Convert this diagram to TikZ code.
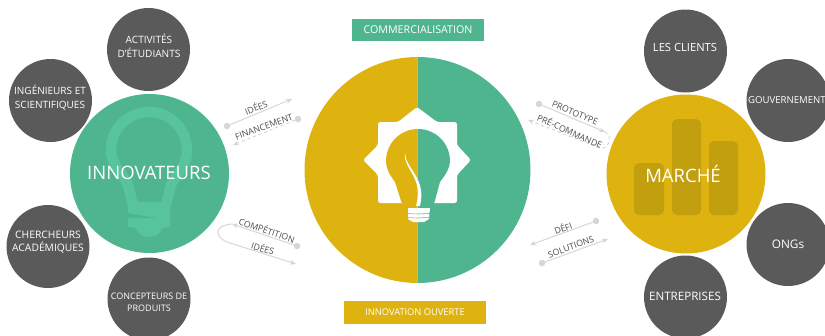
\documentclass[tikz,border=0pt]{standalone}
\usepackage{fontspec}
\setmainfont{Open Sans}
\usetikzlibrary{arrows.meta}
\definecolor{vert}{HTML}{4FB58F}
\definecolor{vertclair}{HTML}{57C49B}
\definecolor{jaune}{HTML}{DFB30F}
\definecolor{jaunefonce}{HTML}{C29F0E}
\definecolor{gris}{HTML}{5A5A5A}
\definecolor{lien}{HTML}{D6D6D6}
\newcommand{\ampoule}{(402,204) -- (395,182) .. controls (389,174) and (386,168) .. (386,161)
     arc[start angle=180,end angle=360,radius=32]
     .. controls (450,168) and (446,174) .. (440,182) -- (434,204) -- cycle}
\tikzset{
  acteur/.style={circle,fill=gris,minimum size=83pt,inner sep=0pt},
  nom/.style={text=white,inner sep=0pt,align=center},
  pole/.style={circle,minimum size=159pt,inner sep=0pt},
  titre/.style={text=white,inner sep=0pt,font=\fontsize{18.5}{20}\selectfont},
  bandeau/.style={text=white,inner sep=0pt},
  mot/.style={text=gris!85!black,inner sep=0pt,font=\fontsize{8.8}{10}\selectfont},
  fleche/.style={draw=lien,line width=1pt,-{Stealth[length=6pt,width=5pt]}},
  point/.style={circle,fill=lien,minimum size=6.5pt,inner sep=0pt}
}
\begin{document}
\begin{tikzpicture}[x=1pt,y=-1pt]
  \useasboundingbox (0,0) rectangle (825,335);

  \fill[jaune] (417.5,57) arc[start angle=270,end angle=90,radius=113] -- cycle;
  \fill[vert]  (417.5,57) arc[start angle=270,end angle=450,radius=113] -- cycle;

  \fill[white,rounded corners=2.5pt]
   (417,107) -- (437,122) -- (457,122) -- (457,145) -- (471,160) -- (457,175)
   -- (457,203) -- (434,203) -- (417,210) -- (402,203) -- (378,203) -- (378,175)
   -- (363,160) -- (378,145) -- (378,122) -- (398,122) -- cycle;
  \begin{scope}
    \clip (300,100) rectangle (417.5,215);
    \fill[jaune] \ampoule;
    \fill[jaune] (402,203) rectangle (417.5,212);
  \end{scope}
  \begin{scope}
    \clip (417.5,100) rectangle (530,215);
    \fill[vert] \ampoule;
    \fill[vert] (417.5,203) rectangle (434,212);
  \end{scope}
  \fill[white] (405,153) .. controls (403,170) and (424,176) .. (416,206)
   -- (420,206) .. controls (427,178) and (405,168) .. (405,153) -- cycle;
  \fill[white] (408,208) -- (430,208) -- (429,219) -- (424,222) -- (413,222) -- (408,219) -- cycle;
  \draw[jaune,line width=0.6pt] (408,213.5) -- (417.5,214);
  \draw[jaune,line width=0.6pt] (408,217.5) -- (417.5,218);
  \draw[vert,line width=0.6pt] (417.5,214) -- (430,213.5);
  \draw[vert,line width=0.6pt] (417.5,218) -- (430,217.5);

  \node[fill=vert,bandeau,minimum width=132pt,minimum height=22pt,font=\fontsize{10.7}{12}\selectfont] (commercial) at (418,30) {COMMERCIALISATION};
  \node[fill=jaune,bandeau,minimum width=142pt,minimum height=23pt,font=\fontsize{9.3}{11}\selectfont] (ouverte) at (415,312.5) {INNOVATION OUVERTE};

  \node[acteur] (etudiants)   at (148.5,49.5) {};
  \node[acteur] (ingenieurs)  at (50.5,100.5) {};
  \node[acteur] (chercheurs)  at (48,246.5)   {};
  \node[acteur] (concepteurs) at (149,299)    {};
  \node[acteur] (clients)     at (685.5,51)   {};
  \node[acteur] (gouv)        at (788,100.5)  {};
  \node[acteur] (ongs)        at (788,244.5)  {};
  \node[acteur] (entreprises) at (685.5,297)  {};

  \node[nom,font=\fontsize{10.1}{14}\selectfont] (netudiants)   at (149,46)    {ACTIVITÉS\\D’ÉTUDIANTS};
  \node[nom,font=\fontsize{10}{14}\selectfont]   (ningenieurs)  at (50,98)     {INGÉNIEURS ET\\SCIENTIFIQUES};
  \node[nom,font=\fontsize{10.3}{13.5}\selectfont] (nchercheurs) at (48,242)   {CHERCHEURS\\ACADÉMIQUES};
  \node[nom,font=\fontsize{9}{11.5}\selectfont]  (nconcepteurs) at (149,302.5) {CONCEPTEURS DE\\PRODUITS};
  \node[nom,font=\fontsize{11.2}{14}\selectfont] (nclients)     at (685,47)    {LES CLIENTS};
  \node[nom,font=\fontsize{9.6}{14}\selectfont]  (ngouv)        at (787,100)   {GOUVERNEMENT};
  \node[nom,font=\fontsize{11.8}{14}\selectfont] (nongs)        at (788,244)   {ONGs};
  \node[nom,font=\fontsize{11.6}{14}\selectfont] (nentreprises) at (685,296)   {ENTREPRISES};

  \node[pole,fill=vert] (innovateurs) at (149.5,173.5) {};
  \draw[vertclair,line width=10.5pt] (133,205) -- (128,185) .. controls (124,175) and (111,165) .. (111,150)
   arc[start angle=180,end angle=360,radius=38]
   .. controls (188,165) and (175,175) .. (171,185) -- (166,205);
  \fill[vertclair] (128,202) -- (170,202) -- (170,227) -- (162,228)
   .. controls (160,234) and (155,237) .. (150,237)
   -- (148,237) .. controls (143,237) and (138,234) .. (136,228)
   -- (128,227) -- (128,218) -- (157,218) -- (128,213) -- cycle;
  \node[titre] (innovlabel) at (149,173) {INNOVATEURS};

  \node[pole,fill=jaune] (marche) at (686,174) {};
  \fill[jaunefonce,rounded corners=5pt] (634,163) rectangle (664,215);
  \fill[jaunefonce,rounded corners=5pt] (672,119) rectangle (701,215);
  \fill[jaunefonce,rounded corners=5pt] (709,141) rectangle (738,215);
  \node[titre] (marchelabel) at (683,174) {MARCHÉ};

  \node[point] (p1) at (227,126) {};
  \coordinate (f1) at (292,99);
  \draw[fleche] (p1) -- (f1);
  \node[mot,rotate=22] (idees1) at (256,107) {IDÉES};

  \node[point] (p2) at (298,119) {};
  \coordinate (f2) at (233,145);
  \draw[fleche,dashed] (p2) -- (f2);
  \node[mot,rotate=20] (financement) at (264,127) {FINANCEMENT};

  \node[point] (p3) at (297,246) {};
  \coordinate (f3) at (232,224);
  \coordinate (f4) at (296,264);
  \draw[fleche] (p3) -- (f3);
  \draw[fleche] (f3) .. controls (222,225) and (218,228) .. (218,232)
   .. controls (218,238) and (224,241) .. (230,243) -- (f4);
  \node[mot,rotate=-19] (competition) at (267,230) {COMPÉTITION};
  \node[mot,rotate=-17] (idees2) at (263,248) {IDÉES};

  \node[point] (p4) at (539,104) {};
  \coordinate (f5) at (605,132);
  \coordinate (f6) at (528,120);
  \draw[fleche] (p4) -- (f5);
  \draw[fleche,dashed] (f5) .. controls (609,134) and (610,138) .. (609,142)
   .. controls (607,147) and (604,149) .. (600,148) -- (f6);
  \node[mot,rotate=-22] (prototype) at (575,113) {PROTOTYPE};
  \node[mot,rotate=-24] (precommande) at (570,131) {PRÉ-COMMANDE};

  \node[point] (p5) at (596,221) {};
  \coordinate (f7) at (530,245);
  \draw[fleche] (p5) -- (f7);
  \node[mot,rotate=20] (defi) at (563,228) {DÉFI};

  \node[point] (p6) at (542,263) {};
  \coordinate (f8) at (608,239);
  \draw[fleche] (p6) -- (f8);
  \node[mot,rotate=20] (solutions) at (571,247) {SOLUTIONS};
\end{tikzpicture}
\end{document}
